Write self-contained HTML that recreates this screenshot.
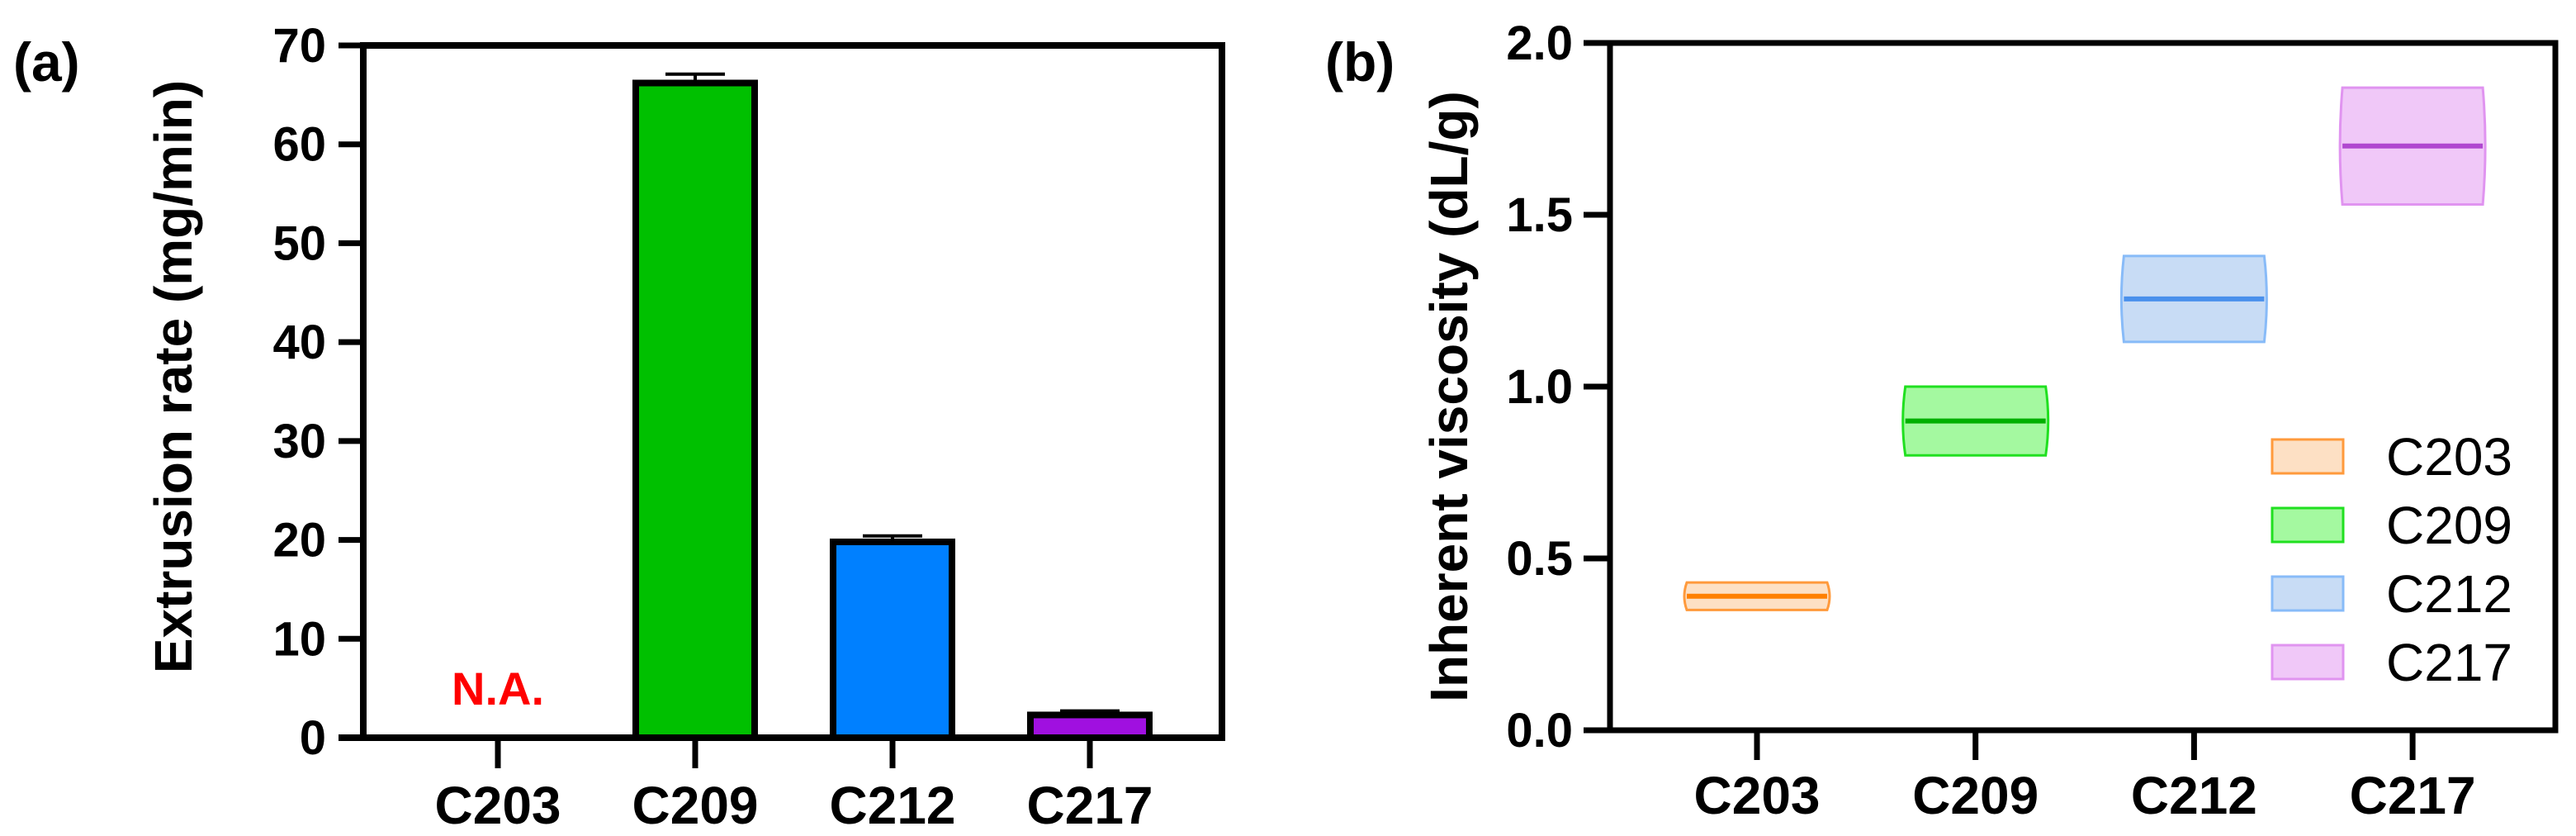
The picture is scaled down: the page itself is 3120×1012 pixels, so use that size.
<!DOCTYPE html>
<html><head><meta charset="utf-8"><style>
html,body{margin:0;padding:0;background:#fff}
svg{display:block}
.n{font-family:"Liberation Sans Narrow","Liberation Sans",sans-serif;font-weight:bold}
.t{font-family:"Liberation Sans","DejaVu Sans",sans-serif;font-weight:bold}
</style></head><body>
<svg id="s" width="3120" height="1012" viewBox="0 0 3120 1012" xmlns="http://www.w3.org/2000/svg">
<text x="16" y="98" class="t" font-size="66">(a)</text>
<text x="1605" y="98" class="t" font-size="66">(b)</text>
<text transform="translate(232,456) rotate(-90)" text-anchor="middle" class="t" font-size="64">Extrusion rate (mg/min)</text>
<text transform="translate(1777,480) rotate(-90)" text-anchor="middle" class="t" font-size="64">Inherent viscosity (dL/g)</text>
<g id="ga"></g><g id="gb"></g>
</svg>
<script>
const NS="http://www.w3.org/2000/svg";
const categories=["C203","C209","C212","C217"];
const rateValues=[null,66.2,19.8,2.3];
const rateErrors=[null,0.9,0.6,0.4];
const rateTicks=[0,10,20,30,40,50,60,70];
const viscMean=[0.39,0.90,1.255,1.70];
const viscLow=[0.35,0.80,1.13,1.53];
const viscHigh=[0.43,1.00,1.38,1.87];
const viscTicks=["0.0","0.5","1.0","1.5","2.0"];
const barColors=["#ff9a3c","#00c000","#0080ff","#a010e0"];
const fills=["#fde0c4","#a4f9a0","#c8dcf5","#f0c8f8"];
const strokes=["#ff9a3c","#20e020","#88bbf8","#e094f0"];
const lines=["#ff8000","#00b000","#4a90ec","#b048d0"];
function mk(p,tag,at,txt){const e=document.createElementNS(NS,tag);for(const k in at)e.setAttribute(k,at[k]);if(txt!=null)e.textContent=txt;p.appendChild(e);return e;}
// panel a
const ga=document.getElementById('ga');
const ya=v=>893-v/70*838;
const xa=i=>603+i*239;
rateTicks.forEach(t=>{
 const l=mk(ga,'line',{x1:410,x2:440,y1:ya(t),y2:ya(t),stroke:'#000','stroke-width':7});
 
 
 const tx=mk(ga,'text',{x:395,y:ya(t)+20,'text-anchor':'end',class:'n','font-size':58},t);
 
 
});
categories.forEach((c,i)=>{
 const l=mk(ga,'line',{x1:xa(i),x2:xa(i),y1:893,y2:930,stroke:'#000','stroke-width':7});
 
 
 const tx=mk(ga,'text',{x:xa(i),y:997,'text-anchor':'middle',class:'n','font-size':64},c);
 
 
 if(rateValues[i]==null){
  const na=mk(ga,'text',{x:xa(i),y:853,'text-anchor':'middle',class:'n','font-size':56,fill:'#ff0000'},'N.A.');
  
  
  return;
 }
 const top=ya(rateValues[i]+rateErrors[i]);
 const e1=mk(ga,'line',{x1:xa(i),x2:xa(i),y1:top,y2:ya(rateValues[i]),stroke:'#000','stroke-width':4});
 
 
 const e2=mk(ga,'line',{x1:xa(i)-36,x2:xa(i)+36,y1:top,y2:top,stroke:'#000','stroke-width':4});
 
 
 const r=mk(ga,'rect',{x:xa(i)-72,y:ya(rateValues[i]),width:144,height:893-ya(rateValues[i]),fill:barColors[i],stroke:'#000','stroke-width':8});
 
 
});
const fa=mk(ga,'path',{d:'M440 893 V55 H1480 V893 H410',fill:'none',stroke:'#000','stroke-width':8});


// panel b
const gb=document.getElementById('gb');
const yb=v=>884-v/2*832;
const xb=i=>2128+i*264.7;
viscTicks.forEach(t=>{
 const v=parseFloat(t);
 const l=mk(gb,'line',{x1:1918,x2:1950,y1:yb(v),y2:yb(v),stroke:'#000','stroke-width':7});
 
 
 const tx=mk(gb,'text',{x:1905,y:yb(v)+20,'text-anchor':'end',class:'n','font-size':58},t);
 
 
});
categories.forEach((c,i)=>{
 const l=mk(gb,'line',{x1:xb(i),x2:xb(i),y1:884,y2:920,stroke:'#000','stroke-width':7});
 
 
 const tx=mk(gb,'text',{x:xb(i),y:985,'text-anchor':'middle',class:'n','font-size':64},c);
 
 
 const y1=yb(viscHigh[i]),y2=yb(viscLow[i]),x0=xb(i)-85,x1=xb(i)+85;
 const b=mk(gb,'path',{d:`M${x0} ${y1} H${x1} Q${x1+6} ${(y1+y2)/2} ${x1} ${y2} H${x0} Q${x0-6} ${(y1+y2)/2} ${x0} ${y1}Z`,fill:fills[i],stroke:strokes[i],'stroke-width':3});
 
 
 const m=mk(gb,'line',{x1:x0,x2:x1,y1:yb(viscMean[i]),y2:yb(viscMean[i]),stroke:lines[i],'stroke-width':6});
 
 
 const ly=532+i*83;
 const sw=mk(gb,'rect',{x:2752,y:ly,width:86,height:41,fill:fills[i],stroke:strokes[i],'stroke-width':3});
 
 
 const lt=mk(gb,'text',{x:2890,y:ly+43,'font-family':'"Liberation Sans Narrow","Liberation Sans",sans-serif','font-size':64},c);
 
 
});
const fb=mk(gb,'path',{d:'M1950 884 V52 H3095 V884 H1918',fill:'none',stroke:'#000','stroke-width':7});


</script>
</body></html>
